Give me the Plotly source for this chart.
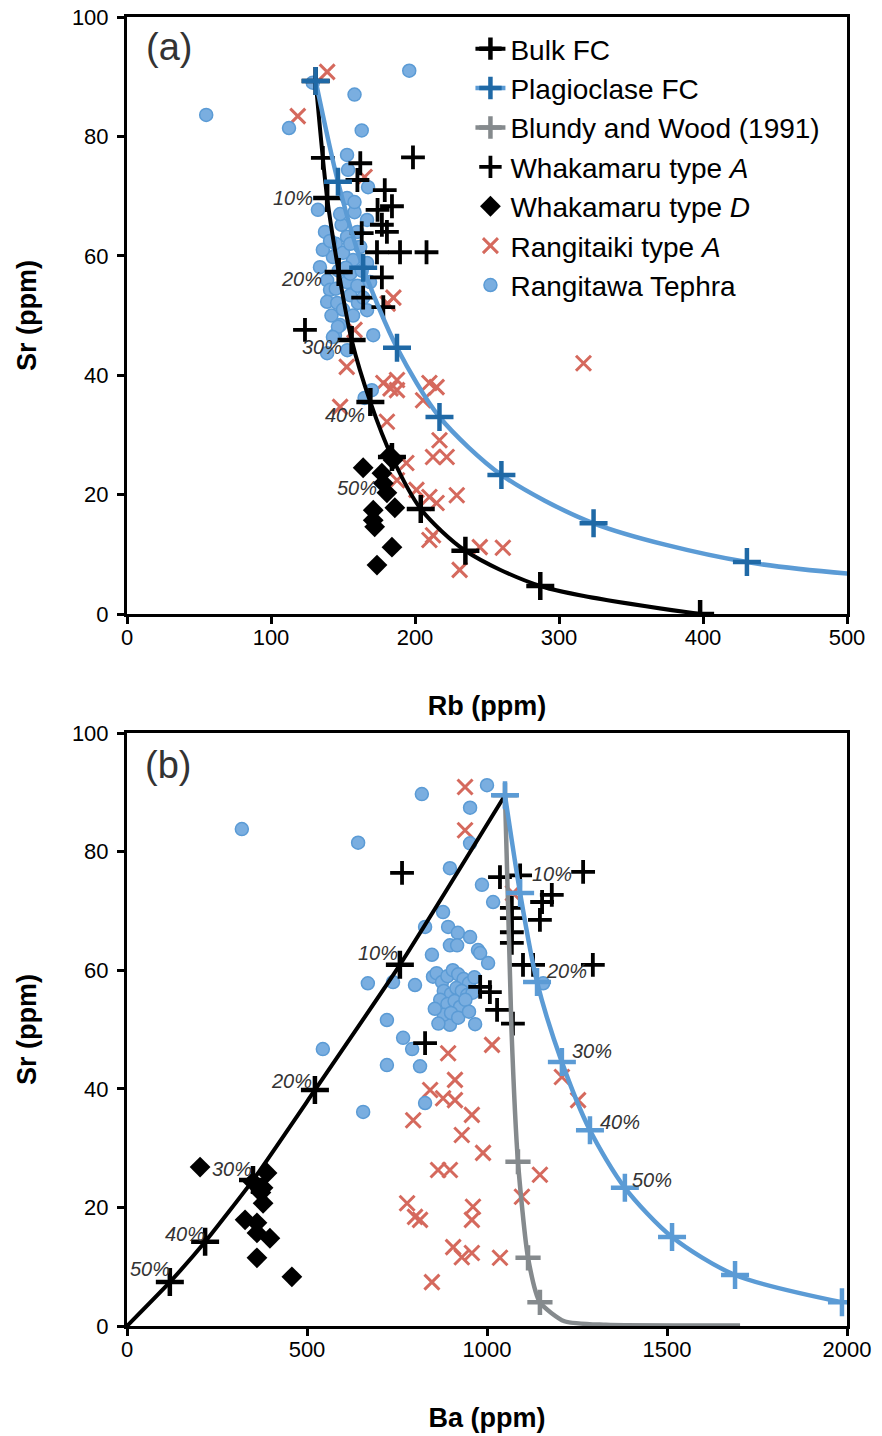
import plotly.graph_objects as go

# ---------------- Panel (a): Rb vs Sr ----------------
bulk_a_rb = [131, 139, 147, 156, 169, 184, 204, 235, 287, 398]
bulk_a_sr = [89.3, 69.7, 57.3, 45.9, 35.5, 26.3, 17.6, 10.6, 4.7, 0.0]

plag_a_rb = [131, 146.5, 164, 187.5, 217, 260, 324, 430.5, 655]
plag_a_sr = [89.3, 72.4, 58.0, 44.6, 33.0, 23.3, 15.2, 8.7, 4.0]

wa_a_rb = [136, 198.6, 162, 160, 179, 184, 174, 177, 180.5, 163, 173.6, 189.6, 208, 177, 164, 178, 123.6]
wa_a_sr = [76.4, 76.5, 75.5, 72.7, 71.0, 68.3, 67.7, 65.2, 64.0, 63.8, 60.6, 60.6, 60.6, 56.4, 53.0, 51.4, 47.6]

wd_a_rb = [182.6, 184.7, 164, 177, 178, 180.5, 186, 171, 171, 172, 184, 173.6]
wd_a_sr = [26.6, 25.8, 24.5, 23.6, 21.9, 20.3, 17.8, 17.4, 15.7, 14.6, 11.2, 8.2]

rk_a_rb = [139, 118.6, 165, 185, 181, 158, 152.6, 178, 187.5, 187.5, 183, 210, 215, 205.6, 148,
           180.5, 217, 212.5, 222, 194, 201, 210, 215, 229, 187.5, 212.5, 210, 245, 261, 231, 317]
rk_a_sr = [90.8, 83.4, 73.2, 53.0, 52.0, 47.6, 41.4, 38.7, 39.2, 37.5, 37.8, 38.7, 38.0, 35.8, 34.7,
           32.2, 29.1, 26.3, 26.3, 25.3, 20.8, 19.6, 18.6, 19.9, 22.4, 13.2, 12.4, 11.2, 11.1, 7.4, 42.0]

rt_a_rb = [55, 112.5, 158, 163, 196, 129, 152.8, 153.5, 167.4, 152.8, 132.6, 158, 166.7, 149, 137.5,
           152.8, 162, 143, 134, 157, 166.7, 139, 152.8, 168.8, 141, 155, 139, 146, 160.4, 166.7,
           148, 144.4, 171, 146.5, 143, 139, 153, 170, 165, 145, 150, 155, 147, 160, 163, 142,
           150, 157, 136, 148, 160, 145, 152, 164, 141, 155, 158]
rt_a_sr = [83.6, 81.4, 87.0, 81.0, 91.0, 89.0, 76.9, 74.4, 71.5, 69.7, 67.7, 67.3, 66.0, 65.2, 64.0,
           63.2, 61.5, 59.8, 58.1, 59.3, 58.8, 55.9, 55.6, 55.6, 54.3, 53.4, 52.3, 52.1, 52.1, 50.9,
           48.4, 46.7, 46.7, 48.1, 46.4, 43.7, 44.2, 37.5, 36.2, 62.0, 60.5, 57.0, 57.5, 55.0, 57.5, 50.0,
           51.0, 50.0, 61.0, 67.0, 64.0, 54.5, 58.0, 53.0, 62.5, 62.0, 69.0]

# ---------------- Panel (b): Ba vs Sr ----------------
bulk_b_ba = [1050, 758, 522, 350, 217, 119, 0]
bulk_b_sr = [89.5, 60.9, 39.8, 24.6, 14.2, 7.4, 0.0]
bulk_b_mk = [0, 1, 1, 1, 1, 1, 0]

plag_b_ba = [1050, 1092, 1139, 1208, 1286, 1383, 1514, 1689, 1986]
plag_b_sr = [89.5, 73.0, 58.0, 44.5, 33.0, 23.3, 15.0, 8.6, 4.0]

bw_b_ba = [1050, 1068, 1086, 1114, 1147, 1215, 1330, 1703]
bw_b_sr = [89.5, 50.0, 27.7, 11.5, 4.0, 0.8, 0.2, 0.1]
bw_b_mk = [1, 0, 1, 1, 1, 0, 0, 0]

wa_b_ba = [764, 1036, 1092, 1267, 1180, 1153, 1069, 1147, 1069, 1069, 1069, 1100, 1128, 1294, 1008, 1028, 1072, 828, 981]
wa_b_sr = [76.4, 75.7, 76.0, 76.6, 72.7, 71.5, 70.5, 68.5, 68.8, 66.4, 64.6, 60.9, 60.9, 60.9, 56.3, 53.3, 51.0, 47.7, 57.2]

wd_b_ba = [203, 350, 389, 378, 378, 328, 361, 361, 397, 361, 458, 372]
wd_b_sr = [26.8, 24.3, 25.8, 23.3, 20.7, 17.9, 17.4, 15.7, 14.8, 11.5, 8.3, 22.5]

rk_b_ba = [939, 939, 1072, 892, 1014, 911, 842, 878, 911, 795, 958, 930, 989, 864, 897, 1147, 1097,
           778, 800, 814, 961, 958, 906, 930, 958, 1036, 847, 1208, 1253]
rk_b_sr = [90.9, 83.6, 73.0, 46.0, 47.4, 41.5, 39.8, 38.4, 38.1, 34.7, 35.6, 32.2, 29.2, 26.3, 26.3, 25.5, 21.8,
           20.7, 18.4, 17.9, 20.1, 17.9, 13.3, 11.6, 12.3, 11.5, 7.4, 42.0, 38.1]

rt_b_ba = [319, 642, 819, 1000, 953, 953, 897, 986, 1017, 878, 828, 892, 919, 953, 897, 917, 975, 981,
           847, 1003, 669, 739, 800, 850, 722, 544, 656, 722, 767, 792, 814, 828, 897, 967, 1156,
           860, 875, 890, 905, 920, 935, 950, 965, 880, 900, 915, 930, 945, 960, 870, 890, 910, 925,
           940, 880, 900, 920, 855, 950, 865]
rt_b_sr = [83.8, 81.5, 89.7, 91.2, 87.4, 81.4, 77.2, 74.4, 71.5, 69.8, 67.3, 67.3, 66.3, 65.6, 64.2, 64.2, 63.4, 62.9,
           62.6, 61.2, 57.8, 58.0, 57.5, 58.9, 51.6, 46.7, 36.1, 44.0, 48.6, 46.7, 43.8, 37.6, 50.8, 50.9, 57.8,
           59.5, 58.0, 59.0, 60.0, 59.3, 58.5, 57.8, 58.8, 56.5, 56.0, 57.0, 56.5, 55.8, 56.2, 55.0, 54.3, 54.8, 53.8,
           55.0, 52.5, 52.8, 52.0, 53.5, 53.0, 51.0]

pct_labels = ["10%", "20%", "30%", "40%", "50%"]
pct_a_x = [115, 121.5, 135.5, 151.5, 160]
pct_a_y = [69.7, 56.1, 44.7, 33.3, 21.1]
pct_b_bulk_x = [697, 458, 292, 161, 64]
pct_b_bulk_y = [62.9, 41.3, 26.5, 15.5, 9.6]
pct_b_plag_x = [1181, 1222, 1292, 1369, 1458]
pct_b_plag_y = [76.2, 59.9, 46.4, 34.4, 24.6]

# ---------------- styles ----------------
BLACK = "#000000"
PLAG_LINE = "#5B9BD5"
PLAG_MK = "#1F69A6"
GRAY = "#858A8D"
RED = "#D5695D"
CIRC_FILL = "#7AAEE0"
CIRC_EDGE = "#5B9BD5"
FONT = "Arial, Liberation Sans, sans-serif"


def pick(vals, mask):
    return [v for v, m in zip(vals, mask) if m]


def cross(color, size=20, width=4.5):
    return dict(symbol="cross-thin", size=size, color=color, line=dict(color=color, width=width))


fig = go.Figure()


def data_traces(xa, ya, wa_x, wa_y, wd_x, wd_y, rk_x, rk_y, rt_x, rt_y, show):
    fig.add_trace(go.Scatter(x=rk_x, y=rk_y, mode="markers", name="Rangitaiki type <i>A</i>",
                             legendgroup="rk", legendrank=6, showlegend=show, xaxis=xa, yaxis=ya,
                             marker=dict(symbol="x-thin", size=15, color=RED, line=dict(color=RED, width=3))))
    fig.add_trace(go.Scatter(x=rt_x, y=rt_y, mode="markers", name="Rangitawa Tephra",
                             legendgroup="rt", legendrank=7, showlegend=show, xaxis=xa, yaxis=ya,
                             marker=dict(symbol="circle", size=13, color=CIRC_FILL, line=dict(color=CIRC_EDGE, width=1.5))))
    fig.add_trace(go.Scatter(x=wd_x, y=wd_y, mode="markers", name="Whakamaru type <i>D</i>",
                             legendgroup="wd", legendrank=5, showlegend=show, xaxis=xa, yaxis=ya,
                             marker=dict(symbol="diamond", size=16, color=BLACK)))
    fig.add_trace(go.Scatter(x=wa_x, y=wa_y, mode="markers", name="Whakamaru type <i>A</i>",
                             legendgroup="wa", legendrank=4, showlegend=show, xaxis=xa, yaxis=ya,
                             marker=cross(BLACK, 17, 3.8)))


data_traces("x", "y", wa_a_rb, wa_a_sr, wd_a_rb, wd_a_sr, rk_a_rb, rk_a_sr, rt_a_rb, rt_a_sr, True)
data_traces("x2", "y2", wa_b_ba, wa_b_sr, wd_b_ba, wd_b_sr, rk_b_ba, rk_b_sr, rt_b_ba, rt_b_sr, False)

# curves panel a
fig.add_trace(go.Scatter(x=bulk_a_rb, y=bulk_a_sr, mode="lines+markers", name="Bulk FC",
                         legendgroup="bulk", legendrank=1, xaxis="x", yaxis="y",
                         line=dict(color=BLACK, width=4, shape="spline", smoothing=0.8),
                         marker=cross(BLACK)))
fig.add_trace(go.Scatter(x=plag_a_rb, y=plag_a_sr, mode="lines+markers", name="Plagioclase FC",
                         legendgroup="plag", legendrank=2, xaxis="x", yaxis="y",
                         line=dict(color=PLAG_LINE, width=4.5, shape="spline", smoothing=0.8),
                         marker=cross(PLAG_MK)))
# curves panel b
fig.add_trace(go.Scatter(x=bw_b_ba, y=bw_b_sr, mode="lines", name="Blundy and Wood (1991)",
                         legendgroup="bw", showlegend=False, xaxis="x2", yaxis="y2",
                         line=dict(color=GRAY, width=4.5, shape="spline", smoothing=0.6)))
fig.add_trace(go.Scatter(x=pick(bw_b_ba, bw_b_mk), y=pick(bw_b_sr, bw_b_mk), mode="markers",
                         name="Blundy and Wood (1991)", legendgroup="bw", showlegend=False,
                         xaxis="x2", yaxis="y2", marker=cross(GRAY, 18)))
fig.add_trace(go.Scatter(x=[None], y=[None], mode="lines+markers", name="Blundy and Wood (1991)",
                         legendgroup="bw", legendrank=3, showlegend=True, xaxis="x2", yaxis="y2",
                         line=dict(color=GRAY, width=4.5), marker=cross(GRAY, 18)))
fig.add_trace(go.Scatter(x=bulk_b_ba, y=bulk_b_sr, mode="lines", name="Bulk FC",
                         legendgroup="bulk", showlegend=False, xaxis="x2", yaxis="y2",
                         line=dict(color=BLACK, width=4, shape="spline", smoothing=0.5)))
fig.add_trace(go.Scatter(x=pick(bulk_b_ba, bulk_b_mk), y=pick(bulk_b_sr, bulk_b_mk), mode="markers",
                         name="Bulk FC", legendgroup="bulk", showlegend=False, xaxis="x2", yaxis="y2",
                         marker=cross(BLACK)))
fig.add_trace(go.Scatter(x=plag_b_ba, y=plag_b_sr, mode="lines+markers", name="Plagioclase FC",
                         legendgroup="plag", showlegend=False, xaxis="x2", yaxis="y2",
                         line=dict(color=PLAG_LINE, width=4.5, shape="spline", smoothing=0.8),
                         marker=cross(PLAG_LINE)))

annotations = []
for t, x, y in zip(pct_labels, pct_a_x, pct_a_y):
    annotations.append(dict(x=x, y=y, xref="x", yref="y", text="<i>%s</i>" % t, showarrow=False,
                            font=dict(size=20, color="#333333", family=FONT)))
for t, x, y in zip(pct_labels, pct_b_bulk_x, pct_b_bulk_y):
    annotations.append(dict(x=x, y=y, xref="x2", yref="y2", text="<i>%s</i>" % t, showarrow=False,
                            font=dict(size=20, color="#333333", family=FONT)))
for t, x, y in zip(pct_labels, pct_b_plag_x, pct_b_plag_y):
    annotations.append(dict(x=x, y=y, xref="x2", yref="y2", text="<i>%s</i>" % t, showarrow=False,
                            font=dict(size=20, color="#333333", family=FONT)))
annotations.append(dict(x=29, y=95, xref="x", yref="y", text="(a)", showarrow=False,
                        font=dict(size=38, color="#333333", family=FONT)))
annotations.append(dict(x=114, y=94.6, xref="x2", yref="y2", text="(b)", showarrow=False,
                        font=dict(size=38, color="#333333", family=FONT)))

axis_common = dict(showgrid=False, zeroline=False, showline=True, linecolor=BLACK, linewidth=3,
                   mirror=True, ticks="outside", ticklen=7, tickwidth=2.5, tickcolor=BLACK,
                   tickfont=dict(size=22, color=BLACK, family=FONT), automargin=False)

fig.update_layout(
    width=882, height=1436,
    margin=dict(l=127, r=35, t=17, b=110),
    paper_bgcolor="white", plot_bgcolor="white",
    font=dict(family=FONT, color=BLACK),
    showlegend=True,
    legend=dict(x=0.477, y=0.9947, xanchor="left", yanchor="top", bgcolor="rgba(0,0,0,0)",
                font=dict(size=28, color=BLACK, family=FONT), traceorder="normal"),
    xaxis=dict(domain=[0, 1], anchor="y", range=[0, 500], dtick=100, ticklabelstandoff=-5,
               title=dict(text="<b>Rb (ppm)</b>", font=dict(size=27), standoff=47), **axis_common),
    yaxis=dict(domain=[0.5439, 1], anchor="x", range=[0, 100], dtick=20, ticklabelstandoff=4,
               title=dict(text="<b>Sr (ppm)</b>", font=dict(size=27), standoff=28), **axis_common),
    xaxis2=dict(domain=[0, 1], anchor="y2", range=[0, 2000], dtick=500, ticklabelstandoff=-5,
                title=dict(text="<b>Ba (ppm)</b>", font=dict(size=27), standoff=47), **axis_common),
    yaxis2=dict(domain=[0, 0.4530], anchor="x2", range=[0, 100], dtick=20, ticklabelstandoff=4,
                title=dict(text="<b>Sr (ppm)</b>", font=dict(size=27), standoff=28), **axis_common),
    annotations=annotations,
)

fig.write_html("out.html")
